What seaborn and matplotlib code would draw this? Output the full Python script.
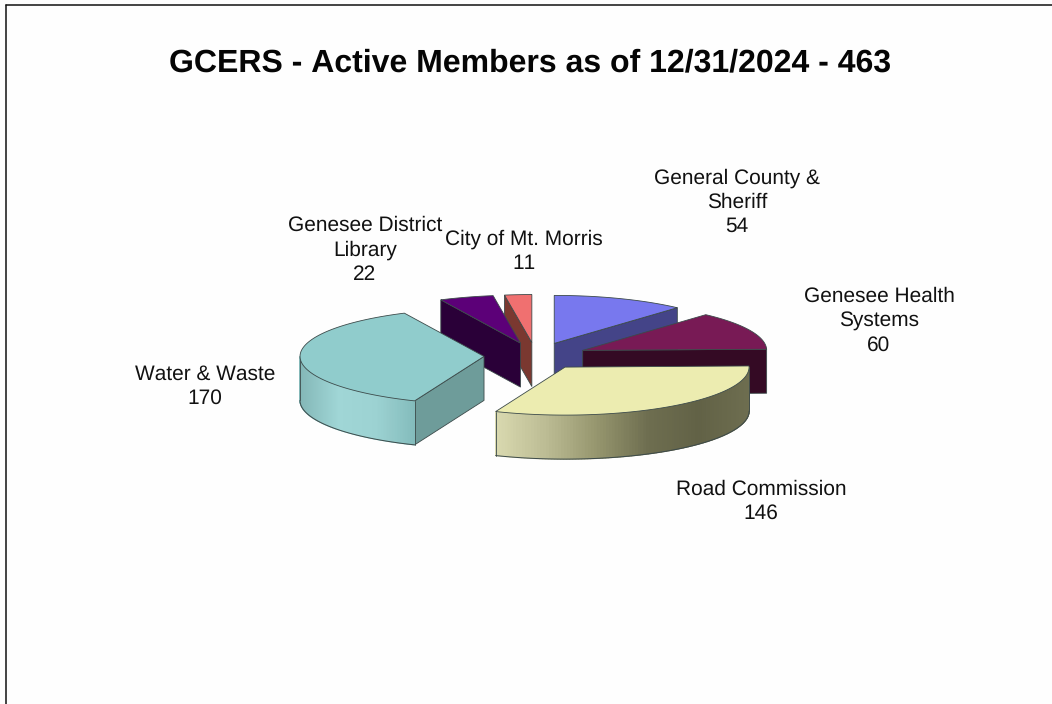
# GCERS active members - exploded 3D style pie, drawn by hand in pixel space
import numpy as np
import matplotlib
matplotlib.use('Agg')
import matplotlib.pyplot as plt
from matplotlib.patches import Polygon
import seaborn as sns

members = ['General County &\nSheriff', 'Genesee Health\nSystems', 'Road Commission',
           'Water & Waste', 'Genesee District\nLibrary', 'City of Mt. Morris']
counts = [54, 60, 146, 170, 22, 11]
title = 'GCERS - Active Members as of 12/31/2024 - 463'

top_colors = ['#7878EE', '#781A55', '#ECECB0', '#90CCCC', '#5C0078', '#F07070']
wall_colors = ['#444488', '#340A24', '#ECECB0', '#6E9C9A', '#2A0038', '#7A3830']
# rim shading runs left to right on screen
rim_colors = [
    ['#444488', '#444488'],
    ['#340A24', '#340A24'],
    ['#DADAB0', '#BCBC94', '#96966E', '#6E6E50', '#626246', '#6E6E50'],
    ['#84B8B8', '#A0D6D6', '#9CD2D2', '#84BCBC'],
    ['#2A0038', '#2A0038'],
    ['#7A3830', '#7A3830'],
]
# slices are painted back to front
paint_order = [5, 4, 0, 1, 3, 2]
label_xy = [(737, 202), (879, 321), (761, 501), (205, 386), (365, 250), (524, 251)]

CX, CY = 535.7, 356.0
RX, RY = 184.0, 48.0
DEPTH = 44.0
EXPLODE = 0.281
OUTLINE = '#3c4a4a'

sns.set_theme(style='white')
plt.rcParams['font.family'] = ['Liberation Sans', 'DejaVu Sans']
plt.rcParams['text.hinting'] = 'no_hinting'
plt.rcParams['text.kerning_factor'] = 6

fig = plt.figure(figsize=(10.52, 7.04), dpi=100, facecolor='#FEFEFE')
ax = fig.add_axes([0, 0, 1, 1])
ax.set_xlim(0, 1052)
ax.set_ylim(704, 0)
ax.axis('off')

# page frame
ax.plot([5.5, 5.5], [704, 4.5], color='#111111', lw=1.1)
ax.plot([5.5, 1052], [4.5, 4.5], color='#111111', lw=1.1)


def on_rim(deg, ox, oy):
    t = np.radians(deg)
    return ox + RX * np.sin(t), oy - RY * np.cos(t)


edges = np.concatenate([[0], np.cumsum(counts)]) / sum(counts) * 360
for z, i in enumerate(paint_order):
    a0, a1 = edges[i], edges[i + 1]
    mid = np.radians((a0 + a1) / 2)
    ox = CX + EXPLODE * RX * np.sin(mid)
    oy = CY - EXPLODE * RY * np.cos(mid)
    base = z * 10 + 5

    # radial walls that face the viewer
    for deg, seen in ((a0, np.sin(np.radians(a0)) < -1e-6), (a1, np.sin(np.radians(a1)) > 1e-6)):
        if seen:
            ex, ey = on_rim(deg, ox, oy)
            wall = [(ox, oy), (ex, ey), (ex, ey + DEPTH), (ox, oy + DEPTH)]
            ax.add_patch(Polygon(wall, closed=True, fc=wall_colors[i], ec=OUTLINE, lw=0.6, zorder=base))

    # outer rim, only the front part, shaded strip by strip
    lo, hi = max(a0, 90), min(a1, 270)
    if hi > lo:
        steps = np.linspace(lo, hi, 120)
        rim_x = np.array([on_rim(d, ox, oy)[0] for d in steps])
        rim_y = np.array([on_rim(d, ox, oy)[1] for d in steps])
        shades = sns.blend_palette(rim_colors[i], n_colors=256)
        span = (rim_x - rim_x.min()) / (rim_x.max() - rim_x.min())
        for k in range(len(steps) - 1):
            c = shades[int(span[k] * 255)]
            ax.add_patch(Polygon([(rim_x[k], rim_y[k]), (rim_x[k + 1], rim_y[k + 1]),
                                  (rim_x[k + 1], rim_y[k + 1] + DEPTH), (rim_x[k], rim_y[k] + DEPTH)],
                                 closed=True, fc=c, ec=c, lw=0.9, zorder=base + 1))
        ax.plot(rim_x, rim_y + DEPTH, color=OUTLINE, lw=0.7, zorder=base + 2)
        ax.plot([rim_x[0], rim_x[0]], [rim_y[0], rim_y[0] + DEPTH], color=OUTLINE, lw=0.6, zorder=base + 2)
        ax.plot([rim_x[-1], rim_x[-1]], [rim_y[-1], rim_y[-1] + DEPTH], color=OUTLINE, lw=0.6, zorder=base + 2)

    # top face
    angs = np.linspace(a0, a1, 80)
    top = [(ox, oy)] + [on_rim(d, ox, oy) for d in angs]
    ax.add_patch(Polygon(top, closed=True, fc=top_colors[i], ec=OUTLINE, lw=0.6, zorder=base + 3))

for name, n, (lx, ly) in zip(members, counts, label_xy):
    ax.text(lx, ly, f'{name}\n{n}', ha='center', va='center', fontsize=15, color='#111111',
            linespacing=1.3, zorder=100)

ax.text(530.5, 63, title, ha='center', va='center', fontsize=23.05, fontweight='bold', color='#050505')

fig.savefig('out.png', dpi=100, facecolor=fig.get_facecolor())
